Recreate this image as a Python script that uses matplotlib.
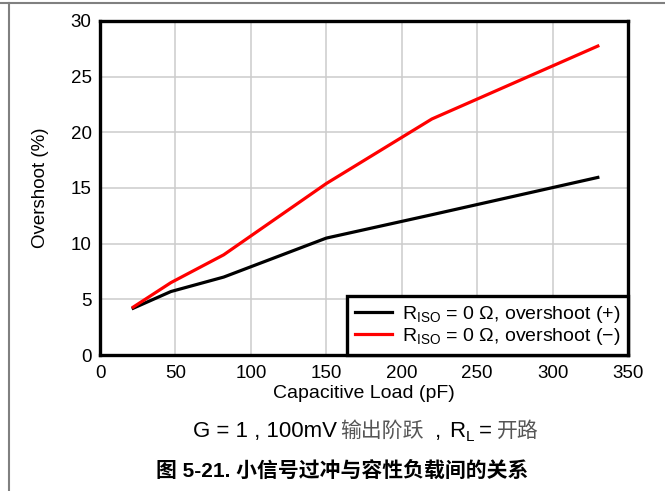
import matplotlib
matplotlib.use('Agg')
import matplotlib.pyplot as plt
from matplotlib.lines import Line2D

# ---- data ----
cap_load = [22, 47, 82, 150, 220, 330]          # pF
overshoot_pos = [4.2, 5.7, 7.0, 10.5, 12.6, 15.95]
overshoot_neg = [4.3, 6.5, 9.0, 15.4, 21.2, 27.75]

x_ticks = [0, 50, 100, 150, 200, 250, 300, 350]
y_ticks = [0, 5, 10, 15, 20, 25, 30]

label_pos = r'R$_{\mathregular{ISO}}$ = 0 Ω, overshoot (+)'
label_neg = r'R$_{\mathregular{ISO}}$ = 0 Ω, overshoot (−)'

# ---- fonts ----
plt.rcParams['font.family'] = ['Liberation Sans', 'Noto Sans CJK SC', 'DejaVu Sans']
plt.rcParams['mathtext.fontset'] = 'custom'
plt.rcParams['mathtext.rm'] = 'Liberation Sans'
plt.rcParams['mathtext.it'] = 'Liberation Sans:italic'
plt.rcParams['mathtext.bf'] = 'Liberation Sans:bold'

W, H = 665, 491
fig = plt.figure(figsize=(W / 100, H / 100), dpi=100)
ax = fig.add_axes([100 / W, (H - 355) / H, 528 / W, 334 / H])

ax.plot(cap_load, overshoot_pos, color='black', lw=2.3, label=label_pos, zorder=3)
ax.plot(cap_load, overshoot_neg, color='#ff0000', lw=2.3, label=label_neg, zorder=3)

ax.set_xlim(0, 350)
ax.set_ylim(0, 30)
ax.set_xticks(x_ticks)
ax.set_yticks(y_ticks)
ax.tick_params(length=0, labelsize=13.5)
ax.tick_params(axis='x', pad=7)
ax.tick_params(axis='y', pad=6)
ax.grid(True, color='#cccccc', lw=1.1)
ax.set_axisbelow(True)
for sp in ax.spines.values():
    sp.set_linewidth(2.4)
    sp.set_color('black')

ax.set_xlabel('Capacitive Load (pF)', fontsize=14)
ax.set_ylabel('Overshoot (%)', fontsize=13.5)
ax.xaxis.set_label_coords(0.5, (355 - 385) / 334)
ax.yaxis.set_label_coords((49 - 100) / 528, 0.5)

leg = ax.legend(loc='lower right', borderaxespad=0, fancybox=False,
                framealpha=1, fontsize=14, handlelength=1.9,
                handletextpad=0.5, borderpad=0.4, labelspacing=0.05)
leg.get_frame().set_edgecolor('black')
leg.get_frame().set_linewidth(2.4)

# ---- caption lines below the chart ----
renderer = fig.canvas.get_renderer()
latin = dict(family=['Liberation Sans'], fontsize=16, color='black')
cjk = dict(family=['Noto Sans CJK SC'], fontsize=15, color='#555555')
sub = dict(family=['Liberation Sans'], fontsize=11, color='black')

pieces = [
    ('G = 1 , 100mV', latin, 0, 3),
    ('输出阶跃', cjk, 0, 11),
    (',', latin, 0, 9),
    ('R', latin, 0, 0),
    ('L', sub, 4, 5),
    ('=', latin, 0, 5),
    ('开路', cjk, 0, 0),
]
x = 193
base_y = 437
for s, style, dy, gap in pieces:
    t = fig.text(x / W, 1 - (base_y + dy) / H, s, ha='left', va='baseline', **style)
    x += t.get_window_extent(renderer).width + gap

fig.text(342 / W, 1 - 471 / H, '图 5-21. 小信号过冲与容性负载间的关系',
         ha='center', va='center', fontsize=15, fontweight='bold',
         family=['Liberation Sans', 'Noto Sans CJK SC'])

# page frame lines (top and left edge of the document box)
fig.add_artist(Line2D([0, 1], [1 - 2.5 / H, 1 - 2.5 / H], transform=fig.transFigure,
                      color='#808080', lw=1.5))
fig.add_artist(Line2D([8.5 / W, 8.5 / W], [0, 1 - 2.5 / H], transform=fig.transFigure,
                      color='#808080', lw=1.5))

fig.savefig('out.png', dpi=100)
